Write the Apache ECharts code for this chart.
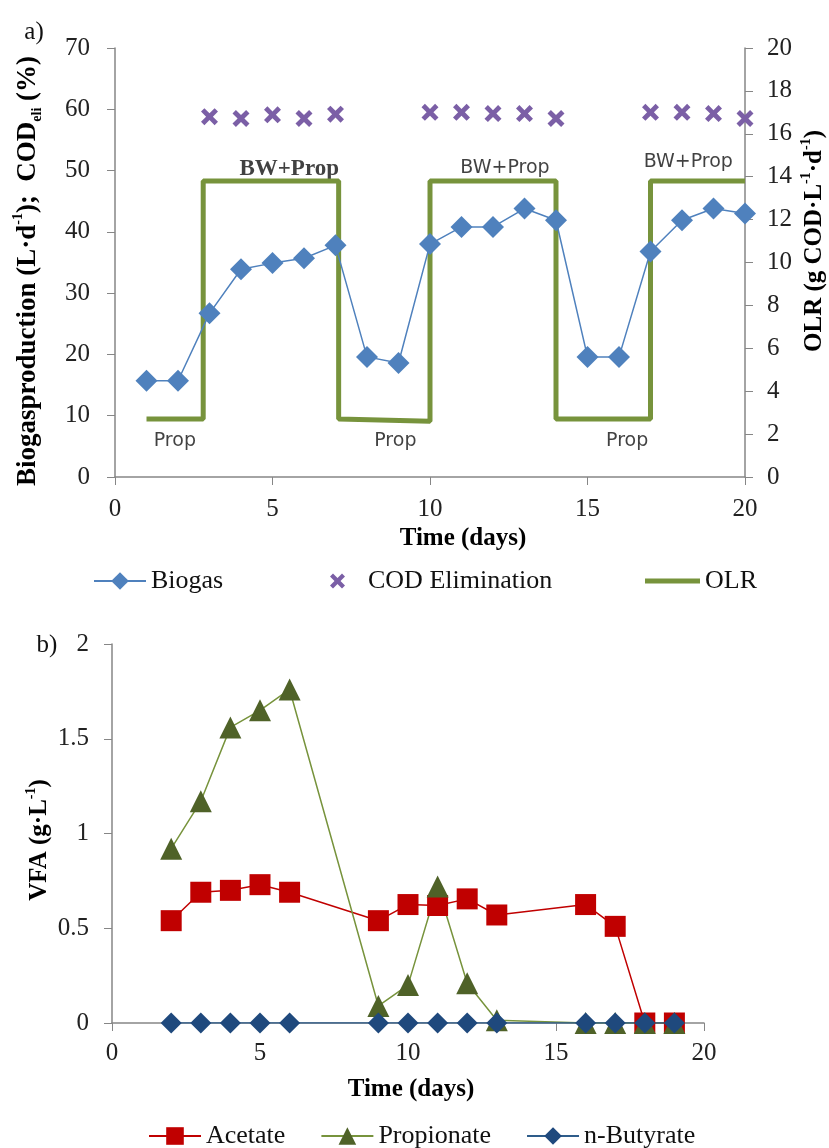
<!DOCTYPE html>
<html>
<head>
<meta charset="utf-8">
<script src="https://cdn.jsdelivr.net/npm/echarts@6/dist/echarts.min.js"></script>
<style>
    html, body {margin: 0; padding: 0; background: #fff;}
    #main {width: 829px; height: 1148px;}
</style>
</head>
<body>
<div id="main"></div>
<script>
// a) biogas / COD / OLR
var days = [1, 2, 3, 4, 5, 6, 7, 8, 9, 10, 11, 12, 13, 14, 15, 16, 17, 18, 19, 20];
var biogas = [15.7, 15.7, 26.7, 33.9, 34.9, 35.7, 37.8, 19.6, 18.6, 38, 40.8, 40.8, 43.8, 41.9, 19.6, 19.6, 36.8, 41.9, 43.8, 43];
var codDays = [3, 4, 5, 6, 7, 10, 11, 12, 13, 14, 17, 18, 19, 20];
var codElim = [58.8, 58.5, 59.1, 58.5, 59.2, 59.5, 59.5, 59.3, 59.3, 58.5, 59.5, 59.5, 59.3, 58.5];
var olrX = [1, 2.8, 2.8, 7.1, 7.1, 10, 10, 14, 14, 17, 17, 20];
var olrY = [2.7, 2.7, 13.8, 13.8, 2.7, 2.6, 13.8, 13.8, 2.7, 2.7, 13.8, 13.8];
var noteText = ['BW+Prop', 'BW+Prop', 'BW+Prop', 'Prop', 'Prop', 'Prop'];
var noteX = [5.53, 12.38, 18.2, 1.9, 8.9, 16.26];
var noteY = [50.2, 50.4, 51.4, 5.9, 5.9, 5.9];

// b) VFA
var vfaDays = [2, 3, 4, 5, 6, 9, 10, 11, 12, 13, 16, 17, 18, 19];
var acetate = [0.54, 0.69, 0.70, 0.73, 0.69, 0.54, 0.625, 0.62, 0.655, 0.57, 0.625, 0.51, 0, 0];
var propionate = [0.92, 1.17, 1.56, 1.65, 1.76, 0.09, 0.2, 0.72, 0.21, 0.015, 0, 0, 0, 0];
var butyrate = [0, 0, 0, 0, 0, 0, 0, 0, 0, 0, 0, 0, 0, 0];

var xTicks = [0, 5, 10, 15, 20];

function pairs(xs, ys) {
    var out = [];
    for (var i = 0; i < xs.length; i++) {
        out.push([xs[i], ys[i]]);
    }
    return out;
}

var serif = 'Liberation Serif';
var sans = 'DejaVu Sans';
var axisGrey = '#868686';
var crossPath = 'path://M0,2 L2,0 L5,3 L8,0 L10,2 L7,5 L10,8 L8,10 L5,7 L2,10 L0,8 L3,5 Z';
// legend icons padded with empty moves so the mark sits where the reference has it
var crossIcon = 'path://M0,0 M0,2 L2,0 L5,3 L8,0 L10,2 L7,5 L10,8 L8,10 L5,7 L2,10 L0,8 L3,5 Z M22,10';
var barIcon = 'path://M0,0 M0,8.5 L55,8.5 L55,13.5 L0,13.5 Z M55,22';

var notes = [];
for (var i = 0; i < noteText.length; i++) {
    var first = i === 0;
    notes.push({
        value: [noteX[i], noteY[i]],
        label: {
            show: true,
            formatter: noteText[i],
            position: 'inside',
            fontFamily: first ? serif : sans,
            fontWeight: first ? 'bold' : 'normal',
            fontSize: first ? 23 : 19,
            color: '#111'
        }
    });
}

function xAxisOf(grid, margin) {
    return {
        type: 'value', gridIndex: grid, min: 0, max: 20, interval: 5,
        axisLine: {lineStyle: {color: axisGrey, width: 1.5}},
        axisTick: {show: true, length: 8, lineStyle: {color: axisGrey}},
        axisLabel: {fontFamily: serif, fontSize: 25, color: '#222', margin: margin,
            formatter: function (v) { return xTicks.indexOf(v) >= 0 ? String(v) : ''; }},
        splitLine: {show: false}
    };
}

function yAxisOf(grid, min, max, interval, pos, margin) {
    return {
        type: 'value', gridIndex: grid, min: min, max: max, interval: interval, position: pos,
        axisLine: {show: true, lineStyle: {color: axisGrey, width: 1.5}},
        axisTick: {show: true, length: 8, lineStyle: {color: axisGrey}},
        axisLabel: {fontFamily: serif, fontSize: 25, color: '#222', margin: margin},
        splitLine: {show: false}
    };
}

function richOf(size) {
    return {
        b: {fontFamily: serif, fontWeight: 'bold', fontSize: size, color: '#000', lineHeight: size + 6},
        sup: {fontFamily: serif, fontWeight: 'bold', fontSize: 14, color: '#000', lineHeight: 14, verticalAlign: 'top'},
        sub: {fontFamily: serif, fontWeight: 'bold', fontSize: 14, color: '#000', lineHeight: 14, verticalAlign: 'bottom'}
    };
}

function title(text, x, y, rot, size) {
    return {
        type: 'text', x: x, y: y, rotation: rot,
        style: {text: text, rich: richOf(size), align: 'center', verticalAlign: 'middle'}
    };
}

var legendText = {fontFamily: serif, fontSize: 26, color: '#111'};

var chart = echarts.init(document.getElementById('main'));
var option = {
    backgroundColor: '#fff',
    animation: false,
    textStyle: {fontFamily: serif},
    grid: [
        {left: 115, top: 48, width: 630, height: 429},
        {left: 112, top: 644, width: 592, height: 379}
    ],
    xAxis: [xAxisOf(0, 20), xAxisOf(1, 18)],
    yAxis: [
        yAxisOf(0, 0, 70, 10, 'left', 25),
        yAxisOf(0, 0, 20, 2, 'right', 22),
        yAxisOf(1, 0, 2, 0.5, 'left', 23)
    ],
    legend: [
        {data: ['Biogas'], left: 93, top: 568, padding: 0, itemWidth: 52, itemHeight: 22, textStyle: legendText},
        {data: [{name: 'COD Elimination', icon: crossIcon}], left: 330, top: 568, padding: 0, itemWidth: 33, itemHeight: 15,
            textStyle: legendText},
        {data: [{name: 'OLR', icon: barIcon}], left: 645, top: 568, padding: 0, itemWidth: 55, itemHeight: 22,
            textStyle: legendText},
        {data: ['Acetate', 'Propionate', 'n-Butyrate'], left: 148, top: 1123, padding: 0, itemWidth: 52, itemHeight: 22,
            itemGap: 35, textStyle: legendText}
    ],
    graphic: [
        title('{b|Biogasproduction (L·d}{sup|-1}{b|);  COD}{sub|eli}{b| (%)}', 28, 271, Math.PI / 2, 27),
        title('{b|OLR (g COD·L}{sup|-1}{b|·d}{sup|-1}{b|)}', 815, 241, Math.PI / 2, 25),
        title('{b|Time (days)}', 463, 539, 0, 25),
        title('{b|VFA (g·L}{sup|-1}{b|)}', 40, 840, Math.PI / 2, 25),
        title('{b|Time (days)}', 411, 1090, 0, 25),
        {type: 'text', x: 34, y: 32, style: {text: 'a)', font: '25px "Liberation Serif"', fill: '#111', align: 'center', verticalAlign: 'middle'}},
        {type: 'text', x: 47, y: 645, style: {text: 'b)', font: '25px "Liberation Serif"', fill: '#111', align: 'center', verticalAlign: 'middle'}}
    ],
    series: [
        {
            name: 'OLR', type: 'line', xAxisIndex: 0, yAxisIndex: 1,
            data: pairs(olrX, olrY), showSymbol: false, symbol: 'none',
            lineStyle: {color: '#77933C', width: 5}, itemStyle: {color: '#77933C'}
        },
        {
            name: 'Biogas', type: 'line', xAxisIndex: 0, yAxisIndex: 0,
            data: pairs(days, biogas), symbol: 'diamond', symbolSize: 22,
            lineStyle: {color: '#4F81BD', width: 1.5}, itemStyle: {color: '#4F81BD'}
        },
        {
            name: 'COD Elimination', type: 'scatter', xAxisIndex: 0, yAxisIndex: 0,
            data: pairs(codDays, codElim), symbol: crossPath, symbolSize: 17,
            itemStyle: {color: '#7B5FA6', opacity: 1}
        },
        {
            name: 'notes', type: 'scatter', xAxisIndex: 0, yAxisIndex: 0,
            data: notes, symbolSize: 0, silent: true
        },
        {
            name: 'Acetate', type: 'line', xAxisIndex: 1, yAxisIndex: 2,
            data: pairs(vfaDays, acetate), symbol: 'rect', symbolSize: 21,
            lineStyle: {color: '#C00000', width: 1.5}, itemStyle: {color: '#C00000'}
        },
        {
            name: 'Propionate', type: 'line', xAxisIndex: 1, yAxisIndex: 2,
            data: pairs(vfaDays, propionate), symbol: 'triangle', symbolSize: 22,
            lineStyle: {color: '#77933C', width: 1.5}, itemStyle: {color: '#4F6228'}
        },
        {
            name: 'n-Butyrate', type: 'line', xAxisIndex: 1, yAxisIndex: 2,
            data: pairs(vfaDays, butyrate), symbol: 'diamond', symbolSize: 21,
            lineStyle: {color: '#2E5C8A', width: 1.5}, itemStyle: {color: '#1F497D'}
        }
    ]
};

chart.setOption(option);
</script>
</body>
</html>
